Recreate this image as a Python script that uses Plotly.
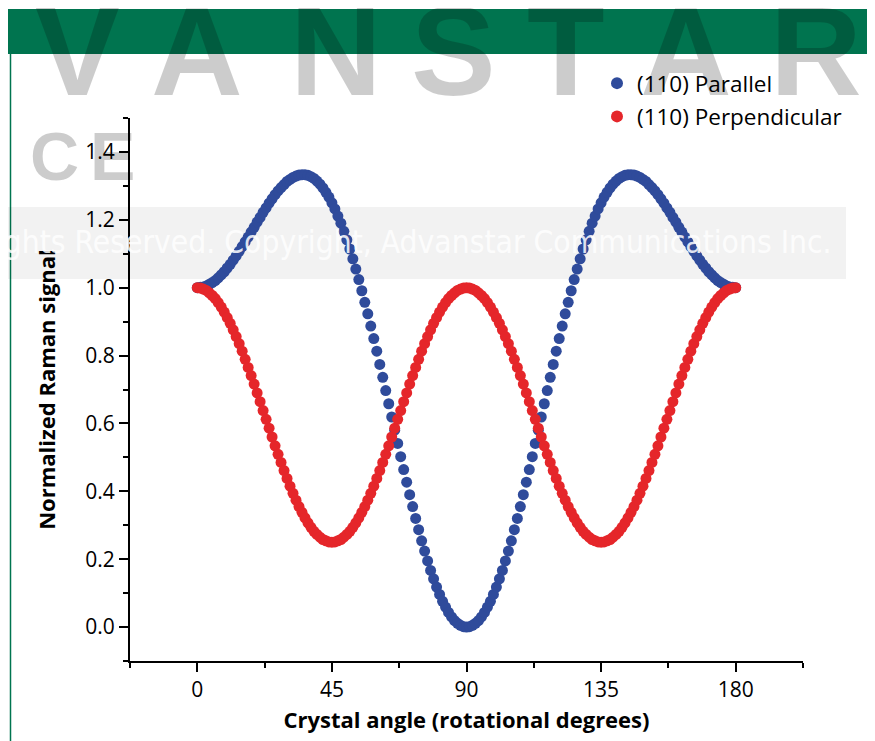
import plotly.graph_objects as go

# ---------------- data ----------------
angle_deg = list(range(0, 181))

parallel = [
    1.000, 1.001, 1.002, 1.005, 1.010, 1.015, 1.021, 1.029, 1.038, 1.047,
    1.058, 1.069, 1.081, 1.094, 1.107, 1.121, 1.135, 1.149, 1.164, 1.178,
    1.193, 1.207, 1.222, 1.235, 1.249, 1.262, 1.274, 1.285, 1.295, 1.304,
    1.313, 1.319, 1.325, 1.329, 1.332, 1.333, 1.333, 1.331, 1.327, 1.322,
    1.314, 1.305, 1.294, 1.281, 1.267, 1.250, 1.232, 1.211, 1.190, 1.166,
    1.141, 1.114, 1.085, 1.055, 1.024, 0.991, 0.957, 0.923, 0.887, 0.850,
    0.813, 0.774, 0.736, 0.697, 0.658, 0.619, 0.580, 0.541, 0.502, 0.464,
    0.427, 0.390, 0.355, 0.320, 0.287, 0.254, 0.224, 0.195, 0.167, 0.142,
    0.118, 0.096, 0.076, 0.059, 0.043, 0.030, 0.019, 0.011, 0.005, 0.001,
    0.000,
    0.001, 0.005, 0.011, 0.019, 0.030, 0.043, 0.059, 0.076, 0.096, 0.118,
    0.142, 0.167, 0.195, 0.224, 0.254, 0.287, 0.320, 0.355, 0.390, 0.427,
    0.464, 0.502, 0.541, 0.580, 0.619, 0.658, 0.697, 0.736, 0.774, 0.813,
    0.850, 0.887, 0.923, 0.957, 0.991, 1.024, 1.055, 1.085, 1.114, 1.141,
    1.166, 1.190, 1.211, 1.232, 1.250, 1.267, 1.281, 1.294, 1.305, 1.314,
    1.322, 1.327, 1.331, 1.333, 1.333, 1.332, 1.329, 1.325, 1.319, 1.313,
    1.304, 1.295, 1.285, 1.274, 1.262, 1.249, 1.235, 1.222, 1.207, 1.193,
    1.178, 1.164, 1.149, 1.135, 1.121, 1.107, 1.094, 1.081, 1.069, 1.058,
    1.047, 1.038, 1.029, 1.021, 1.015, 1.010, 1.005, 1.002, 1.001, 1.000,
]

perpendicular = [
    1.000, 0.999, 0.996, 0.992, 0.985, 0.977, 0.968, 0.956, 0.943, 0.928,
    0.912, 0.895, 0.876, 0.856, 0.835, 0.813, 0.789, 0.765, 0.741, 0.716,
    0.690, 0.664, 0.638, 0.612, 0.586, 0.560, 0.534, 0.509, 0.485, 0.461,
    0.438, 0.415, 0.394, 0.374, 0.355, 0.338, 0.322, 0.307, 0.294, 0.282,
    0.273, 0.265, 0.258, 0.254, 0.251, 0.250, 0.251, 0.254, 0.258, 0.265,
    0.273, 0.282, 0.294, 0.307, 0.322, 0.338, 0.355, 0.374, 0.394, 0.415,
    0.438, 0.461, 0.485, 0.509, 0.534, 0.560, 0.586, 0.612, 0.638, 0.664,
    0.690, 0.716, 0.741, 0.765, 0.789, 0.813, 0.835, 0.856, 0.876, 0.895,
    0.912, 0.928, 0.943, 0.956, 0.968, 0.977, 0.985, 0.992, 0.996, 0.999,
    1.000,
    0.999, 0.996, 0.992, 0.985, 0.977, 0.968, 0.956, 0.943, 0.928, 0.912,
    0.895, 0.876, 0.856, 0.835, 0.813, 0.789, 0.765, 0.741, 0.716, 0.690,
    0.664, 0.638, 0.612, 0.586, 0.560, 0.534, 0.509, 0.485, 0.461, 0.438,
    0.415, 0.394, 0.374, 0.355, 0.338, 0.322, 0.307, 0.294, 0.282, 0.273,
    0.265, 0.258, 0.254, 0.251, 0.250, 0.251, 0.254, 0.258, 0.265, 0.273,
    0.282, 0.294, 0.307, 0.322, 0.338, 0.355, 0.374, 0.394, 0.415, 0.438,
    0.461, 0.485, 0.509, 0.534, 0.560, 0.586, 0.612, 0.638, 0.664, 0.690,
    0.716, 0.741, 0.765, 0.789, 0.813, 0.835, 0.856, 0.876, 0.895, 0.912,
    0.928, 0.943, 0.956, 0.968, 0.977, 0.985, 0.992, 0.996, 0.999, 1.000,
]

series_names = ["(110) Parallel", "(110) Perpendicular"]
x_tick_vals = [0, 45, 90, 135, 180]
x_tick_text = ["0", "45", "90", "135", "180"]
y_tick_vals = [0.0, 0.2, 0.4, 0.6, 0.8, 1.0, 1.2, 1.4]
y_tick_text = ["0.0", "0.2", "0.4", "0.6", "0.8", "1.0", "1.2", "1.4"]
x_title = "Crystal angle (rotational degrees)"
y_title = "Normalized Raman signal"

# ---------------- layout helpers ----------------
# The page body has an 8 px margin, so the figure starts at page (8, 8).
OFF = 8
W, H = 875 - OFF, 741 - OFF
PL, PR, PT, PB = 130, 803, 118, 661          # plot area in page pixels
L, T = PL - OFF, PT - OFF
R, B = W - (PR - OFF), H - (PB - OFF)
PW, PH = W - L - R, H - T - B


def px(x):  # page pixel -> paper x
    return (x - OFF - L) / PW


def py(y):  # page pixel -> paper y
    return (H - B - (y - OFF)) / PH


BLUE = "#2f4b9b"
RED = "#e5262a"
GREEN = "#00744f"
FONT = "Open Sans"

fig = go.Figure()
fig.add_trace(go.Scatter(
    x=angle_deg, y=parallel, mode="markers", name=series_names[0],
    marker=dict(color=BLUE, size=11, line=dict(width=0)),
    legendgroup="a",
))
fig.add_trace(go.Scatter(
    x=angle_deg, y=perpendicular, mode="markers", name=series_names[1],
    marker=dict(color=RED, size=11, line=dict(width=0)),
    legendgroup="b",
))

shapes = [
    # green header
    dict(type="rect", xref="paper", yref="paper", x0=px(8), x1=px(873), y0=py(54), y1=py(9),
         fillcolor=GREEN, line=dict(width=0), layer="below"),
    # side borders
    dict(type="line", xref="paper", yref="paper", x0=px(10.5), x1=px(10.5), y0=py(54), y1=py(745),
         line=dict(color=GREEN, width=1.5), layer="below"),
    dict(type="line", xref="paper", yref="paper", x0=px(871), x1=px(871), y0=py(54), y1=py(745),
         line=dict(color=GREEN, width=1.5), layer="below"),
    # grey watermark band
    dict(type="rect", xref="paper", yref="paper", x0=px(0), x1=px(846), y0=py(279), y1=py(207),
         fillcolor="rgba(0,0,0,0.05)", line=dict(width=0), layer="below"),
]

annotations = []
WM = "rgba(0,0,0,0.2)"
for ch, cx in zip("VANSTAR", [77, 197, 336, 453, 566, 686, 816]):
    annotations.append(dict(text="<b>" + ch + "</b>", x=px(cx), y=py(51), xref="paper", yref="paper",
                            xanchor="center", yanchor="middle", showarrow=False,
                            font=dict(family="Liberation Sans", size=127, color=WM)))
for ch, cx in zip("NCE", [-13, 54, 112]):
    annotations.append(dict(text="<b>" + ch + "</b>", x=px(cx), y=py(156), xref="paper", yref="paper",
                            xanchor="center", yanchor="middle", showarrow=False,
                            font=dict(family="Liberation Sans", size=68, color=WM)))
annotations.append(dict(
    text="All Rights Reserved. Copyright, Advanstar Communications Inc.",
    x=px(834), y=py(242), xref="paper", yref="paper", xanchor="right", yanchor="middle",
    showarrow=False,
    font=dict(family="DejaVu Sans Condensed, Roboto, sans-serif", size=31.5,
              color="rgba(255,255,255,0.85)")))

fig.update_layout(
    width=W, height=H,
    margin=dict(l=L, r=R, t=T, b=B, pad=0),
    paper_bgcolor="white",
    plot_bgcolor="rgba(0,0,0,0)",
    font=dict(family=FONT, size=21, color="black"),
    showlegend=True,
    legend=dict(x=px(597), y=py(62), xanchor="left", yanchor="top",
                bgcolor="rgba(0,0,0,0)", font=dict(family=FONT, size=22.5, color="black"),
                traceorder="grouped", tracegroupgap=1, itemsizing="constant"),
    shapes=shapes,
    annotations=annotations,
    xaxis=dict(
        range=[-22.5, 202.5], tickvals=x_tick_vals, ticktext=x_tick_text,
        ticks="outside", ticklen=9, tickwidth=2, tickcolor="black",
        showline=True, linewidth=2, linecolor="black", mirror=False,
        showgrid=False, zeroline=False,
        tickfont=dict(family=FONT, size=21),
        minor=dict(tickvals=[-22.5, 22.5, 67.5, 112.5, 157.5, 202.5], ticks="outside",
                   ticklen=5, tickwidth=2, tickcolor="black", showgrid=False),
        title=dict(text="<b>" + x_title + "</b>", font=dict(family=FONT, size=22), standoff=10),
    ),
    yaxis=dict(
        range=[-0.1, 1.5], tickvals=y_tick_vals, ticktext=y_tick_text,
        ticks="outside", ticklen=9, tickwidth=2, tickcolor="black",
        showline=True, linewidth=2, linecolor="black", mirror=False,
        showgrid=False, zeroline=False,
        tickfont=dict(family=FONT, size=21),
        minor=dict(tickvals=[-0.1, 0.1, 0.3, 0.5, 0.7, 0.9, 1.1, 1.3, 1.5], ticks="outside",
                   ticklen=5, tickwidth=2, tickcolor="black", showgrid=False),
        title=dict(text="<b>" + y_title + "</b>", font=dict(family=FONT, size=22), standoff=24),
    ),
)

fig.write_html("out.html")
